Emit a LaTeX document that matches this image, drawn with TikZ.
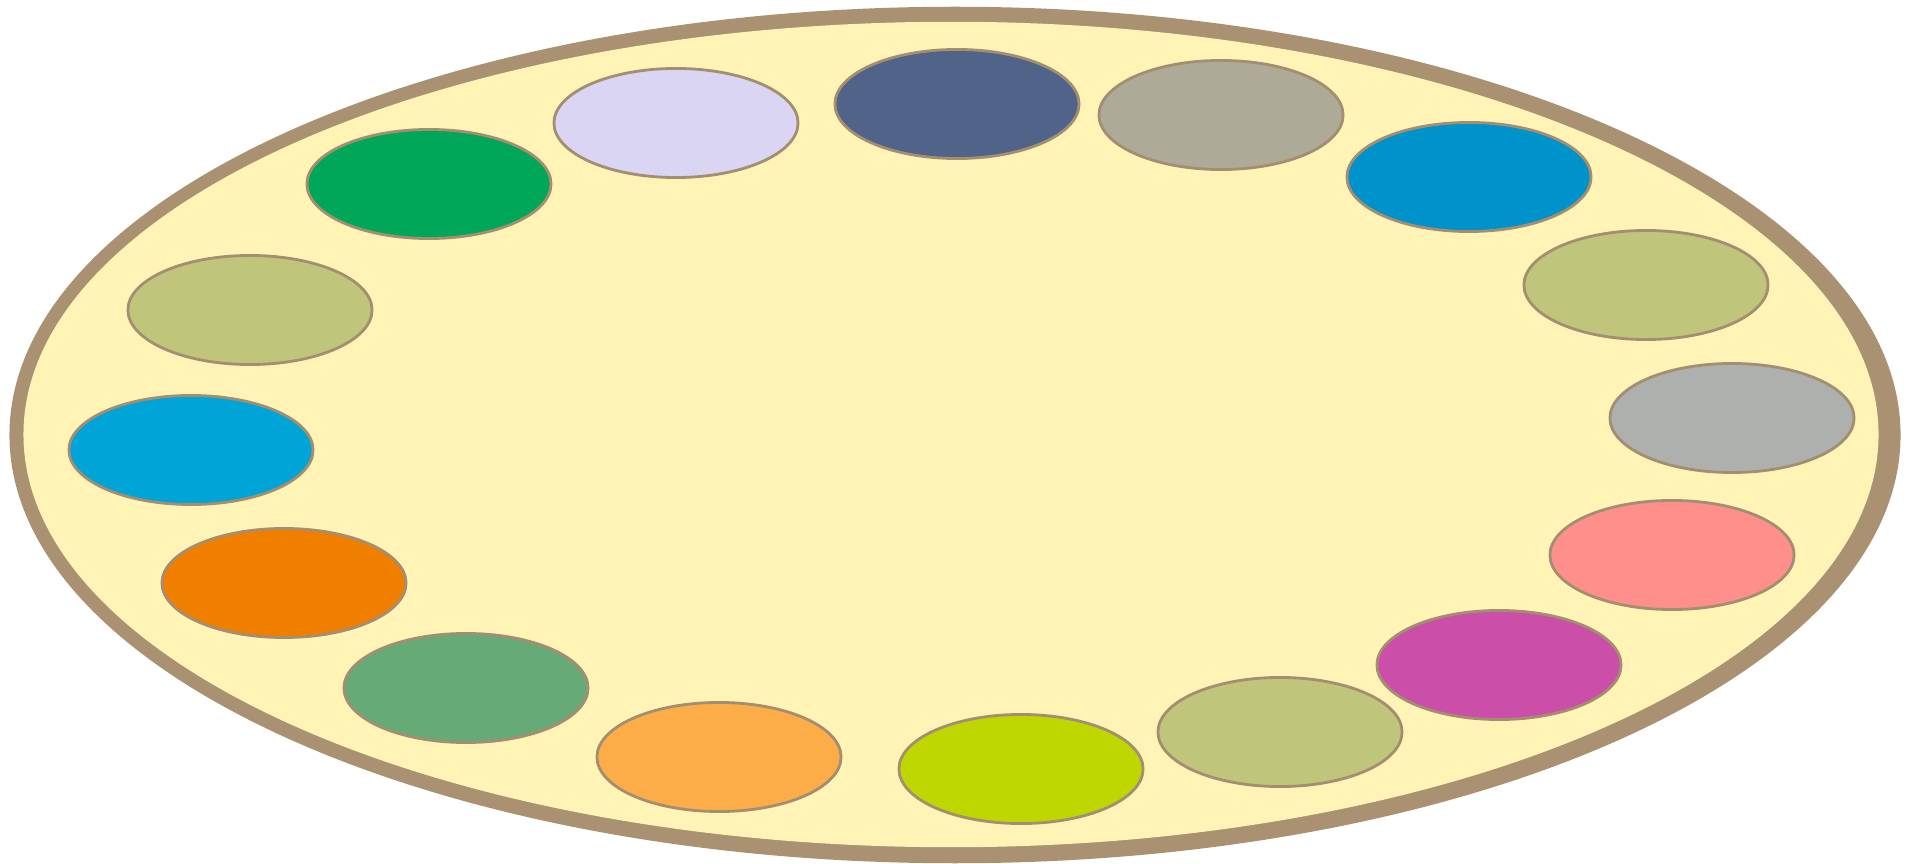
\documentclass[tikz,border=0pt]{standalone}
\usepackage{tikz}
\usetikzlibrary{shapes.geometric, positioning}

\definecolor{rimtan}{HTML}{A99171}
\definecolor{welltan}{HTML}{A48E72}
\definecolor{trayyellow}{HTML}{FFF4B5}
\definecolor{lavender}{HTML}{DAD5F3}
\definecolor{slateblue}{HTML}{506389}
\definecolor{khaki}{HTML}{ADAB97}
\definecolor{oceanblue}{HTML}{0092CB}
\definecolor{olive}{HTML}{BFC57A}
\definecolor{stonegray}{HTML}{AEB0AD}
\definecolor{salmon}{HTML}{FF8F8A}
\definecolor{magenta}{HTML}{CB4FA8}
\definecolor{lime}{HTML}{BED700}
\definecolor{apricot}{HTML}{FDAD48}
\definecolor{sage}{HTML}{66AA78}
\definecolor{tangerine}{HTML}{F07F00}
\definecolor{skyblue}{HTML}{00A4D6}
\definecolor{emerald}{HTML}{00A758}

\begin{document}
\begin{tikzpicture}[x=0.01cm, y=-0.01cm,
    paint/.style={ellipse, draw=welltan, line width=0.8pt, inner sep=0pt,
      minimum width=2.44cm, minimum height=1.09cm}]

		\useasboundingbox (0,0) rectangle (1912,864);

		% Tray
		\fill[rimtan] (955,435) ellipse [x radius=9.45cm, y radius=4.28cm];
		\fill[trayyellow] (951,434.5) ellipse [x radius=9.27cm, y radius=4.125cm];

		% Paint wells, clockwise from the top left
		\node[paint, fill=lavender] (w1) at (676,123) {};
		\node[paint, fill=slateblue] (w2) at (957,104) {};
		\node[paint, fill=khaki] (w3) at (1221,115) {};
		\node[paint, fill=oceanblue] (w4) at (1469,177) {};
		\node[paint, fill=olive] (w5) at (1646,285) {};
		\node[paint, fill=stonegray] (w6) at (1732,418) {};
		\node[paint, fill=salmon] (w7) at (1672,555) {};
		\node[paint, fill=magenta] (w8) at (1499,665) {};
		\node[paint, fill=olive] (w9) at (1280,732) {};
		\node[paint, fill=lime] (w10) at (1021,769) {};
		\node[paint, fill=apricot] (w11) at (719,757) {};
		\node[paint, fill=sage] (w12) at (466,688) {};
		\node[paint, fill=tangerine] (w13) at (284,583) {};
		\node[paint, fill=skyblue] (w14) at (191,450) {};
		\node[paint, fill=olive] (w15) at (250,310) {};
		\node[paint, fill=emerald] (w16) at (429,184) {};

	\end{tikzpicture}
\end{document}
